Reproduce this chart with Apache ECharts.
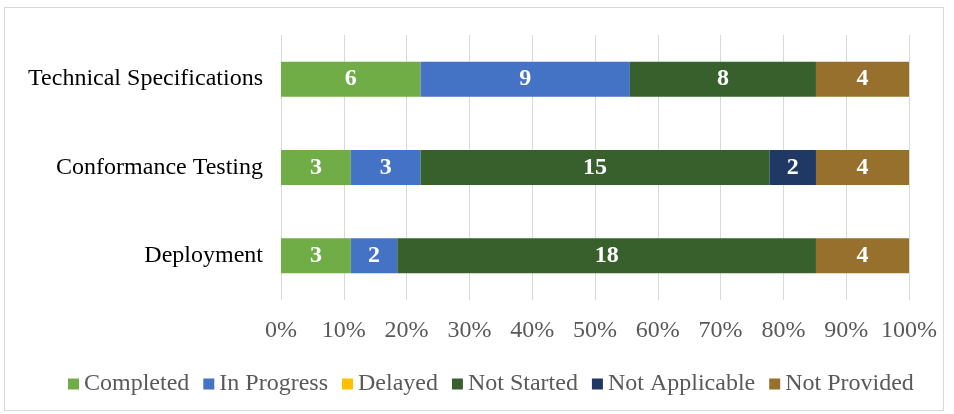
<!DOCTYPE html>
<html>
<head>
<meta charset="utf-8">
<script src="https://cdn.jsdelivr.net/npm/echarts@6/dist/echarts.min.js"></script>
<style>
  html, body { margin: 0; padding: 0; background: #fff; }
  #frame { position: absolute; left: 4px; top: 7px; width: 940px; height: 404px; border: 1px solid #d9d9d9; box-sizing: border-box; }
  #chart { width: 954px; height: 414px; position: absolute; left: 0; top: 0; }
</style>
</head>
<body>
<div id="frame"></div>
<div id="chart"></div>
<script>
// categories, bottom to top (echarts category axis goes upward)
const categories = ['Deployment', 'Conformance Testing', 'Technical Specifications']
const completed = [3, 3, 6]
const inProgress = [2, 3, 9]
const delayed = [0, 0, 0]
const notStarted = [18, 15, 8]
const notApplicable = [0, 2, 0]
const notProvided = [4, 4, 4]
const tickLabels = ['0%', '10%', '20%', '30%', '40%', '50%', '60%', '70%', '80%', '90%', '100%']

const seriesDefs = [
  { name: 'Completed', data: completed, color: '#70AD47' },
  { name: 'In Progress', data: inProgress, color: '#4472C4' },
  { name: 'Delayed', data: delayed, color: '#FFC000' },
  { name: 'Not Started', data: notStarted, color: '#38602D' },
  { name: 'Not Applicable', data: notApplicable, color: '#1F3864' },
  { name: 'Not Provided', data: notProvided, color: '#96702C' }
]

const totals = categories.map((c, i) => seriesDefs.reduce((s, d) => s + d.data[i], 0))

const font = 'Liberation Serif, Times New Roman, serif'
const chart = echarts.init(document.getElementById('chart'))

chart.setOption({
  animation: false,
  textStyle: { fontFamily: font },
  grid: { left: 281, right: 45, top: 35, bottom: 114 },
  legend: {
    top: 367,
    left: 63,
    icon: 'rect',
    itemWidth: 11,
    itemHeight: 11,
    itemGap: 14,
    textStyle: { fontFamily: font, fontSize: 24, color: '#595959' },
    data: seriesDefs.map(d => d.name)
  },
  xAxis: {
    type: 'value',
    min: 0,
    max: 100,
    interval: 10,
    axisLine: { show: false },
    axisTick: { show: false },
    splitLine: { lineStyle: { color: '#d9d9d9' } },
    axisLabel: {
      margin: 19,
      fontSize: 24,
      color: '#595959',
      fontFamily: font,
      formatter: v => tickLabels[Math.round(v / 10)]
    }
  },
  yAxis: {
    type: 'category',
    data: categories,
    axisLine: { show: false },
    axisTick: { show: false },
    axisLabel: { margin: 18, fontSize: 24, color: '#000', fontFamily: font }
  },
  series: seriesDefs.map(d => ({
    name: d.name,
    type: 'bar',
    stack: 'total',
    barWidth: 35,
    itemStyle: { color: d.color },
    label: {
      show: true,
      color: '#fff',
      fontWeight: 'bold',
      fontSize: 24,
      fontFamily: font,
      formatter: p => (d.data[p.dataIndex] ? String(d.data[p.dataIndex]) : '')
    },
    data: d.data.map((v, i) => v / totals[i] * 100)
  }))
})
</script>
</body>
</html>
